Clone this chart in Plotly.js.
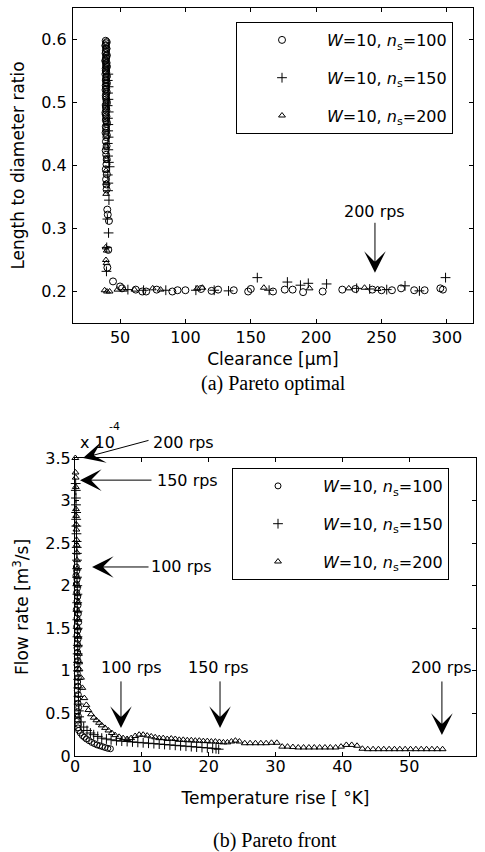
<!DOCTYPE html>
<html>
<head>
<meta charset="utf-8">
<script src="https://cdn.plot.ly/plotly-3.0.1.min.js"></script>
<style>
  html, body { margin: 0; padding: 0; background: #fff; }
  #chart { width: 485px; height: 852px; }
</style>
</head>
<body>
<div id="chart"></div>
<script>
// ---------- (a) Pareto optimal: clearance [µm] vs length-to-diameter ratio ----------
const clearance100 = [
  39.0,39.4,38.8,39.6,39.1,38.9,39.5,39.2,38.7,39.3,
  39.8,39.0,39.4,38.8,39.6,39.1,39.9,39.3,38.9,39.5,
  39.2,39.7,39.0,39.4,38.8,39.6,39.1,39.9,39.3,38.9,
  39.5,39.2,39.7,39.0,39.4,39.8,39.6,39.1,39.9,39.3,
  39.5,39.7,40.2,40.6,41.5,41.0,40.3,
  39.8,39.0,39.6,39.2,39.9,39.4,39.0,39.7,39.3,39.8,
  39.1,39.5,39.9,39.2,39.6,39.0,39.4,39.8,39.1,39.5,
  39.9,39.2,39.6,39.0,39.4,39.8,39.1,39.5,39.9,
  44.6,50.0,51.5,62.0,67.0,70.0,78.0,90.0,94.0,100.0,
  112.0,120.0,125.0,137.0,148.0,150.0,167.0,176.0,182.0,190.0,
  205.0,220.0,230.0,243.0,250.0,258.0,265.0,275.0,283.0,295.0,297.0
];
const ratio100 = [
  0.598,0.594,0.590,0.586,0.582,0.578,0.574,0.570,0.566,0.562,
  0.558,0.554,0.550,0.545,0.540,0.535,0.530,0.525,0.520,0.514,
  0.508,0.502,0.496,0.490,0.484,0.478,0.472,0.466,0.459,0.452,
  0.445,0.438,0.431,0.424,0.417,0.410,0.402,0.394,0.386,0.378,
  0.370,0.362,0.330,0.322,0.312,0.266,0.238,
  0.596,0.591,0.585,0.580,0.575,0.571,0.567,0.563,0.559,0.556,
  0.551,0.547,0.542,0.537,0.532,0.527,0.522,0.517,0.511,0.505,
  0.499,0.493,0.487,0.481,0.475,0.469,0.462,0.455,0.448,
  0.216,0.208,0.205,0.203,0.200,0.200,0.203,0.200,0.202,0.202,
  0.204,0.201,0.203,0.202,0.200,0.204,0.200,0.203,0.203,0.199,
  0.200,0.203,0.204,0.203,0.202,0.202,0.205,0.202,0.202,0.205,0.203
];
const clearance150 = [
  41.0,40.6,41.2,40.8,41.1,40.5,41.3,40.7,41.0,40.9,
  41.2,40.6,41.0,40.8,41.4,42.0,40.6,41.0,40.8,41.5,
  40.3,41.2,39.8,39.6,
  56,68,85,108,122,133,155,164,178,188,
  194,208,231,241,254,268,279,299
];
const ratio150 = [
  0.545,0.535,0.525,0.515,0.505,0.495,0.485,0.475,0.465,0.455,
  0.445,0.435,0.425,0.415,0.405,0.398,0.385,0.372,0.360,0.345,
  0.315,0.293,0.270,0.232,
  0.203,0.202,0.202,0.202,0.202,0.201,0.222,0.202,0.215,0.210,
  0.213,0.212,0.205,0.204,0.203,0.209,0.201,0.222
];
const clearance200 = [
  39.5,39.8,39.3,39.6,39.4,39.0,39.8,39.2,39.6,38.2,
  40.0,42.0,48.0,53.0,61.0,75.0,81.0,109.0,113.0,160.0,
  195.0,225.0,237.0,247.0
];
const ratio200 = [
  0.430,0.410,0.392,0.372,0.355,0.270,0.265,0.250,0.245,0.202,
  0.200,0.200,0.203,0.203,0.203,0.205,0.203,0.205,0.206,0.206,
  0.205,0.205,0.206,0.204
];

// ---------- (b) Pareto front: temperature rise [K] vs flow rate [1e-4 m^3/s] ----------
const tempRise100 = [
  0.20,0.25,0.15,0.30,0.20,0.35,0.25,0.40,0.30,0.45,
  0.20,0.50,0.30,0.55,0.25,0.40,0.30,0.45,0.35,0.30,
  0.40,0.35,0.45,0.30,0.40,0.35,0.50,0.40,0.45,0.35,
  0.50,0.40,0.45,0.55,0.40,0.50,0.45,0.50,0.45,0.55,
  0.8,1.1,1.4,1.7,2.1,2.5,2.9,3.3,3.7,4.1,4.5,4.9,5.3
];
const flow100 = [
  2.22,2.17,2.12,2.07,2.02,1.97,1.92,1.87,1.82,1.77,
  1.72,1.67,1.62,1.57,1.52,1.47,1.42,1.37,1.32,1.27,
  1.22,1.17,1.12,1.07,1.02,0.97,0.92,0.87,0.82,0.77,
  0.72,0.67,0.62,0.57,0.52,0.47,0.42,0.37,0.33,0.30,
  0.27,0.24,0.22,0.20,0.18,0.16,0.145,0.13,0.12,0.11,0.10,0.09,0.085
];
const tempRise150 = [
  0.10,0.12,0.14,0.15,0.17,0.18,0.20,0.22,0.24,0.26,
  0.28,0.30,0.32,0.30,0.34,0.36,0.33,0.38,0.35,0.40,
  0.37,0.42,0.40,0.45,0.43,0.48,0.50,0.52,0.55,0.58,0.62,
  0.9,1.3,1.8,2.3,2.8,3.4,4.0,4.7,5.4,6.2,
  7.0,7.8,8.6,9.4,10.2,11.0,11.8,12.6,13.4,14.2,
  15.0,15.8,16.6,17.4,18.2,19.0,19.8,20.6,21.1,21.5
];
const flow150 = [
  3.20,3.12,3.03,2.95,2.86,2.78,2.70,2.61,2.52,2.45,
  2.38,2.30,2.20,2.10,2.00,1.90,1.80,1.70,1.60,1.50,
  1.40,1.30,1.20,1.10,1.00,0.90,0.80,0.70,0.61,0.53,0.46,
  0.40,0.34,0.30,0.27,0.25,0.23,0.21,0.20,0.19,0.18,
  0.175,0.17,0.165,0.16,0.155,0.15,0.145,0.14,0.135,0.13,
  0.125,0.12,0.115,0.11,0.105,0.10,0.095,0.09,0.085,0.08
];
const tempRise200 = [
  0.05,0.08,0.10,0.12,0.15,0.17,0.19,0.21,0.24,0.26,
  0.28,0.30,0.33,0.35,0.37,0.40,0.42,0.44,0.47,0.50,
  0.52,0.55,0.58,0.62,0.66,
  0.9,1.1,1.4,1.7,2.0,2.4,2.8,3.2,3.6,4.0,
  4.5,5.0,5.5,6.0,6.6,7.2,7.8,8.4,9.0,9.6,
  10.2,10.8,11.4,12.0,12.6,13.2,13.8,14.4,15.0,15.6,
  16.2,16.8,17.4,18.0,18.6,19.2,19.8,20.4,21.0,21.6,
  22.2,22.8,23.4,24.0,24.6,25.4,26.2,27.0,27.8,28.6,
  29.4,30.2,31.0,31.8,32.6,33.4,34.2,35.0,35.8,36.6,
  37.4,38.2,39.0,39.8,40.6,41.4,42.2,43.0,43.8,44.6,
  45.4,46.2,47.0,47.8,48.6,49.4,50.2,51.0,51.8,52.6,
  53.4,54.2,55.0
];
const flow200 = [
  3.50,3.33,3.27,3.16,2.90,2.82,2.72,2.66,2.54,2.48,
  2.39,2.30,2.20,2.10,2.00,1.90,1.80,1.70,1.60,1.50,
  1.40,1.30,1.20,1.10,1.02,
  0.92,0.80,0.68,0.60,0.54,0.49,0.45,0.42,0.39,0.36,
  0.33,0.30,0.27,0.245,0.225,0.21,0.20,0.21,0.235,0.25,
  0.25,0.24,0.23,0.22,0.21,0.21,0.20,0.205,0.20,0.19,
  0.19,0.185,0.185,0.18,0.18,0.175,0.175,0.17,0.17,0.165,
  0.16,0.16,0.17,0.18,0.17,0.15,0.15,0.15,0.15,0.15,
  0.155,0.155,0.11,0.11,0.105,0.10,0.10,0.10,0.10,0.10,
  0.10,0.10,0.10,0.11,0.13,0.13,0.12,0.085,0.08,0.08,
  0.08,0.08,0.08,0.08,0.08,0.08,0.08,0.08,0.08,0.08,
  0.08,0.08,0.08
];

const seriesNames = [
  '<i>W</i>=10, <i>n</i><sub>s</sub>=100',
  '<i>W</i>=10, <i>n</i><sub>s</sub>=150',
  '<i>W</i>=10, <i>n</i><sub>s</sub>=200'
];
const xTicksA = [50, 100, 150, 200, 250, 300];
const yTicksA = [0.2, 0.3, 0.4, 0.5, 0.6];
const xTicksB = [0, 10, 20, 30, 40, 50, 60];
const yTicksB = [0, 0.5, 1, 1.5, 2, 2.5, 3, 3.5];

// ---------- layout helpers (pixel -> paper fraction) ----------
const W = 485, H = 852;
const px = v => v / W;
const py = v => 1 - v / H;
const SANS = 'DejaVu Sans, Arial, sans-serif';
const SERIF = 'Liberation Serif, Times New Roman, serif';
const BLACK = '#000';

const symbols = ['circle-open', 'cross-thin-open', 'triangle-up-open'];
const sizesA = [7, 7, 6];
const sizesB = [6, 7, 6];

function markerStyle(i, sizes) {
  return { symbol: symbols[i], size: sizes[i], color: BLACK, line: { color: BLACK, width: 1 } };
}

const dataA = [[clearance100, ratio100], [clearance150, ratio150], [clearance200, ratio200]];
const dataB = [[tempRise100, flow100], [tempRise150, flow150], [tempRise200, flow200]];

const traces = [];
dataA.forEach((d, i) => traces.push({
  type: 'scatter', mode: 'markers', x: d[0], y: d[1],
  xaxis: 'x', yaxis: 'y', name: seriesNames[i],
  legend: 'legend', legendgroup: 'a' + i,
  marker: markerStyle(i, sizesA), cliponaxis: true
}));
dataB.forEach((d, i) => traces.push({
  type: 'scatter', mode: 'markers', x: d[0], y: d[1],
  xaxis: 'x2', yaxis: 'y2', name: seriesNames[i],
  legend: 'legend2', legendgroup: 'b' + i,
  marker: markerStyle(i, sizesB), cliponaxis: false
}));

function axisBase(extra) {
  return Object.assign({
    showline: true, linecolor: BLACK, linewidth: 1, mirror: 'ticks',
    ticks: 'inside', ticklen: 4, tickwidth: 1, tickcolor: BLACK,
    showgrid: false, zeroline: false,
    tickfont: { family: SANS, size: 16, color: BLACK },
    automargin: false
  }, extra);
}

const legendBase = {
  bordercolor: BLACK, borderwidth: 1, bgcolor: '#fff',
  font: { family: SANS, size: 16, color: BLACK },
  itemwidth: 80, tracegroupgap: 14, traceorder: 'grouped',
  xanchor: 'left', yanchor: 'top', itemclick: false
};

const arrowStyle = { showarrow: true, arrowhead: 3, arrowsize: 3.6, arrowwidth: 1, arrowcolor: BLACK };
const labelFont = { family: SANS, size: 16, color: BLACK };

const annotations = [
  // (a) marker for the 200 rps design
  Object.assign({ xref: 'x', yref: 'y', x: 245, y: 0.2297, ax: 0, ay: -61,
    text: '200 rps', font: labelFont }, arrowStyle),

  // (b) arrows pointing at the maximum flow of each speed
  Object.assign({ xref: 'x2', yref: 'y2', x: 1.2, y: 3.5, ax: 67, ay: -18, text: '' }, arrowStyle),
  Object.assign({ xref: 'x2', yref: 'y2', x: 0.75, y: 3.24, ax: 73, ay: 0, text: '' }, arrowStyle),
  Object.assign({ xref: 'x2', yref: 'y2', x: 2.55, y: 2.22, ax: 58, ay: 0, text: '' }, arrowStyle),
  { xref: 'paper', yref: 'paper', x: px(183), y: py(442), text: '200 rps', showarrow: false, font: labelFont },
  { xref: 'x2', yref: 'y2', x: 16.76, y: 3.24, text: '150 rps', showarrow: false, font: labelFont },
  { xref: 'x2', yref: 'y2', x: 16.0, y: 2.22, text: '100 rps', showarrow: false, font: labelFont },

  // (b) arrows pointing at the maximum temperature rise of each speed
  Object.assign({ xref: 'x2', yref: 'y2', x: 6.88, y: 0.33, ax: 0, ay: -48, text: '' }, arrowStyle),
  Object.assign({ xref: 'x2', yref: 'y2', x: 21.7, y: 0.33, ax: 0, ay: -48, text: '' }, arrowStyle),
  Object.assign({ xref: 'x2', yref: 'y2', x: 54.9, y: 0.247, ax: 0, ay: -55, text: '' }, arrowStyle),
  { xref: 'x2', yref: 'y2', x: 8.38, y: 1.034, text: '100 rps', showarrow: false, font: labelFont },
  { xref: 'x2', yref: 'y2', x: 21.4, y: 1.034, text: '150 rps', showarrow: false, font: labelFont },
  { xref: 'x2', yref: 'y2', x: 54.9, y: 1.034, text: '200 rps', showarrow: false, font: labelFont },

  // exponent of the flow-rate axis
  { xref: 'paper', yref: 'paper', x: px(78), y: py(442), xanchor: 'left', yanchor: 'middle',
    text: 'x 10', showarrow: false, font: labelFont },
  { xref: 'paper', yref: 'paper', x: px(107), y: py(426), xanchor: 'left', yanchor: 'middle',
    text: '-4', showarrow: false, font: { family: SANS, size: 11, color: BLACK } },

  // sub-figure captions
  { xref: 'paper', yref: 'paper', x: px(273), y: py(383), xanchor: 'center', yanchor: 'middle',
    text: '(a) Pareto optimal', showarrow: false, font: { family: SERIF, size: 20, color: BLACK } },
  { xref: 'paper', yref: 'paper', x: px(275), y: py(840), xanchor: 'center', yanchor: 'middle',
    text: '(b) Pareto front', showarrow: false, font: { family: SERIF, size: 20, color: BLACK } }
];

const layout = {
  width: W, height: H,
  margin: { l: 0, r: 0, t: 0, b: 0 },
  paper_bgcolor: '#fff', plot_bgcolor: '#fff',
  font: { family: SANS, color: BLACK },
  showlegend: true,
  xaxis: axisBase({
    domain: [px(73), px(473)], range: [14, 320], anchor: 'y',
    tickvals: xTicksA,
    title: { text: 'Clearance [µm]', font: { family: SANS, size: 17, color: BLACK }, standoff: 6 }
  }),
  yaxis: axisBase({
    domain: [py(323), py(8)], range: [0.15, 0.65], anchor: 'x',
    tickvals: yTicksA, ticklabelstandoff: 2,
    title: { text: 'Length to diameter ratio', font: { family: SANS, size: 17, color: BLACK }, standoff: 12 }
  }),
  xaxis2: axisBase({
    domain: [px(75), px(476)], range: [0, 60], anchor: 'y2',
    tickvals: xTicksB, ticklabelstandoff: -4,
    title: { text: 'Temperature rise [ °K]', font: { family: SANS, size: 17, color: BLACK }, standoff: 16 }
  }),
  yaxis2: axisBase({
    domain: [py(756), py(458)], range: [0, 3.5], anchor: 'x2',
    tickvals: yTicksB,
    title: { text: 'Flow rate [m<sup>3</sup>/s]', font: { family: SANS, size: 17, color: BLACK }, standoff: 12 }
  }),
  legend: Object.assign({ x: px(236), y: py(22) }, legendBase),
  legend2: Object.assign({ x: px(232), y: py(468) }, legendBase),
  annotations: annotations
};

Plotly.newPlot('chart', traces, layout, { displayModeBar: false, staticPlot: true });
</script>
</body>
</html>
